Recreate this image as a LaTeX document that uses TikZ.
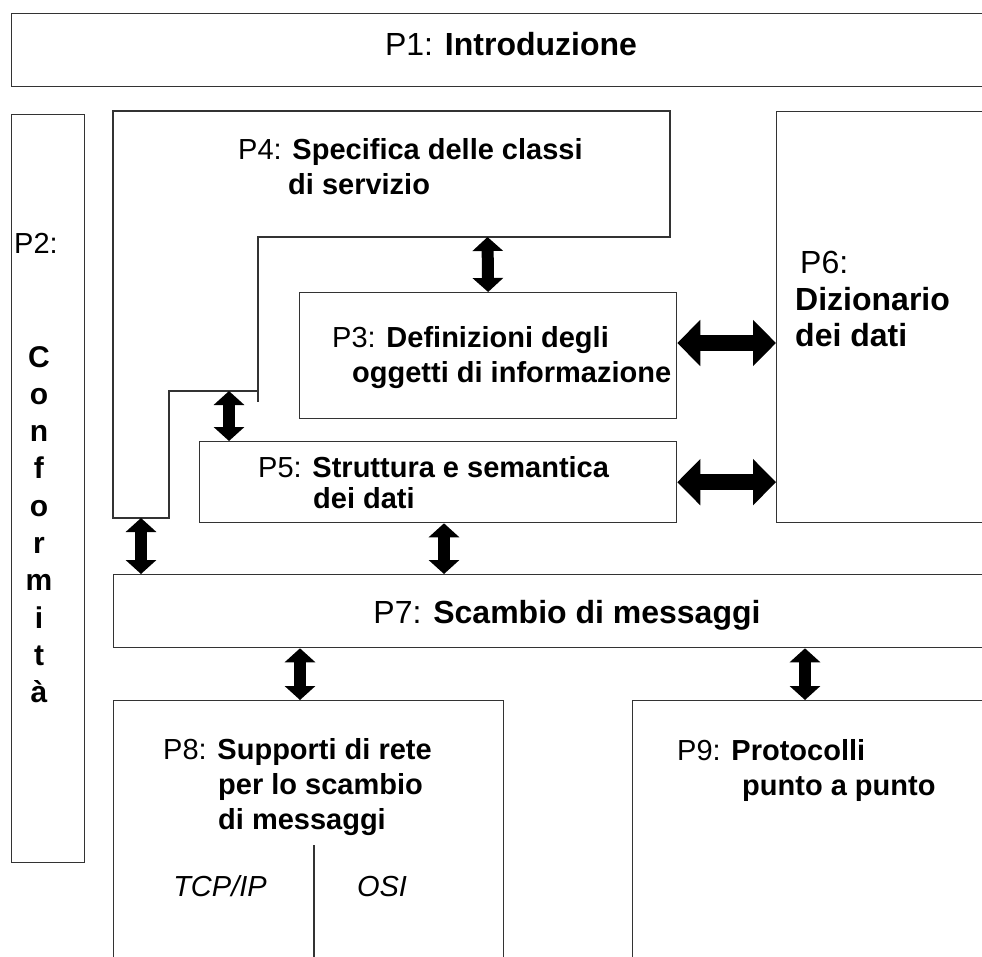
\documentclass[tikz,border=0pt]{standalone}
\usepackage{fontspec}
\setmainfont{Liberation Sans}
\usetikzlibrary{arrows.meta}
\begin{document}
\begin{tikzpicture}[x=1pt,y=-1pt,
  box/.style={draw=black!80, line width=1.3pt, rectangle, inner sep=0pt, anchor=north west},
  lbl/.style={anchor=base west, inner sep=0pt, font=\fontsize{29}{35}\selectfont},
  biglbl/.style={anchor=base, inner sep=0pt, font=\fontsize{32}{38}\selectfont},
  vdbl/.style={line width=12pt, {Triangle[length=14pt,width=30pt]}-{Triangle[length=14pt,width=30pt]}},
  hdbl/.style={line width=16pt, {Triangle[length=23pt,width=45pt]}-{Triangle[length=23pt,width=45pt]}},
]
\clip (0,0) rectangle (982,956);
\fill[white] (0,0) rectangle (982,956);
% boxes
\node[box, minimum width=1000pt, minimum height=73pt] (P1) at (11,13) {};
\node[box, minimum width=73pt, minimum height=748pt] (P2) at (11,114) {};
\draw[draw=black!80, line width=1.3pt] (113,111) -- (670,111) -- (670,237) -- (258,237) -- (258,391) -- (169,391) -- (169,518) -- (113,518) -- cycle;
\draw[draw=black!80, line width=1.3pt] (258,391) -- (258,402);
\coordinate (P4a) at (487.5,237);
\coordinate (P4b) at (229,391);
\coordinate (P4c) at (141,518);
\node[box, minimum width=377pt, minimum height=126pt] (P3) at (299,292) {};
\node[box, minimum width=477pt, minimum height=81pt] (P5) at (199,441) {};
\node[box, minimum width=300pt, minimum height=411pt] (P6) at (776,111) {};
\node[box, minimum width=900pt, minimum height=73pt] (P7) at (113,574) {};
\node[box, minimum width=390pt, minimum height=300pt] (P8) at (113,700) {};
\node[box, minimum width=400pt, minimum height=300pt] (P9) at (632,700) {};
\coordinate (dv) at (314,845);
\draw[draw=black!80, line width=1.3pt] (dv) -- (dv |- P8.south);
% labels
\node[biglbl] (t1) at (511,55) {P1: \textbf{Introduzione}};
\node[lbl] (t2) at (14,253) {P2:};
\foreach \c [count=\i from 0] in {C,o,n,f,o,r,m,i,t,à}
  \node[lbl, anchor=base, font=\fontsize{30}{35}\selectfont] (c\i) at (39,367+37.3*\i) {\textbf{\c}};
\node[lbl] (t4a) at (238,159) {P4: \textbf{Specifica delle classi}};
\node[lbl] (t4b) at (288,194) {\textbf{di servizio}};
\node[lbl] (t3a) at (332,347) {P3: \textbf{Definizioni degli}};
\node[lbl] (t3b) at (352,382) {\textbf{oggetti di informazione}};
\node[lbl] (t5a) at (258,477) {P5: \textbf{Struttura e semantica}};
\node[lbl] (t5b) at (313,508) {\textbf{dei dati}};
\node[lbl, font=\fontsize{32}{38}\selectfont] (t6a) at (800,273) {P6:};
\node[lbl, font=\fontsize{32}{38}\selectfont] (t6b) at (795,310) {\textbf{Dizionario}};
\node[lbl, font=\fontsize{32}{38}\selectfont] (t6c) at (795,346) {\textbf{dei dati}};
\node[biglbl] (t7) at (567,623) {P7: \textbf{Scambio di messaggi}};
\node[lbl] (t8a) at (163,759) {P8: \textbf{Supporti di rete}};
\node[lbl] (t8b) at (218,794) {\textbf{per lo scambio}};
\node[lbl] (t8c) at (218,829) {\textbf{di messaggi}};
\node[lbl, anchor=base] (tcp) at (220,896) {\itshape TCP/IP};
\node[lbl, anchor=base] (osi) at (382,896) {\itshape OSI};
\node[lbl] (t9a) at (677,760) {P9: \textbf{Protocolli}};
\node[lbl] (t9b) at (742,795) {\textbf{punto a punto}};
% arrows
\draw[vdbl] (P4a) -- (P3.north);
\draw[vdbl] (P4b) -- (P4b |- P5.north);
\draw[vdbl] (P4c) -- (P4c |- P7.north);
\coordinate (a57) at (444,0);
\draw[vdbl] (a57 |- P5.south) -- (a57 |- P7.north);
\coordinate (a78) at (300,0);
\draw[vdbl] (a78 |- P7.south) -- (a78 |- P8.north);
\coordinate (a79) at (805,0);
\draw[vdbl] (a79 |- P7.south) -- (a79 |- P9.north);
\coordinate (a36) at (0,343);
\draw[hdbl] (a36 -| P3.east) -- (a36 -| P6.west);
\draw[hdbl] (P5.east) -- (P5.east -| P6.west);
\end{tikzpicture}
\end{document}
